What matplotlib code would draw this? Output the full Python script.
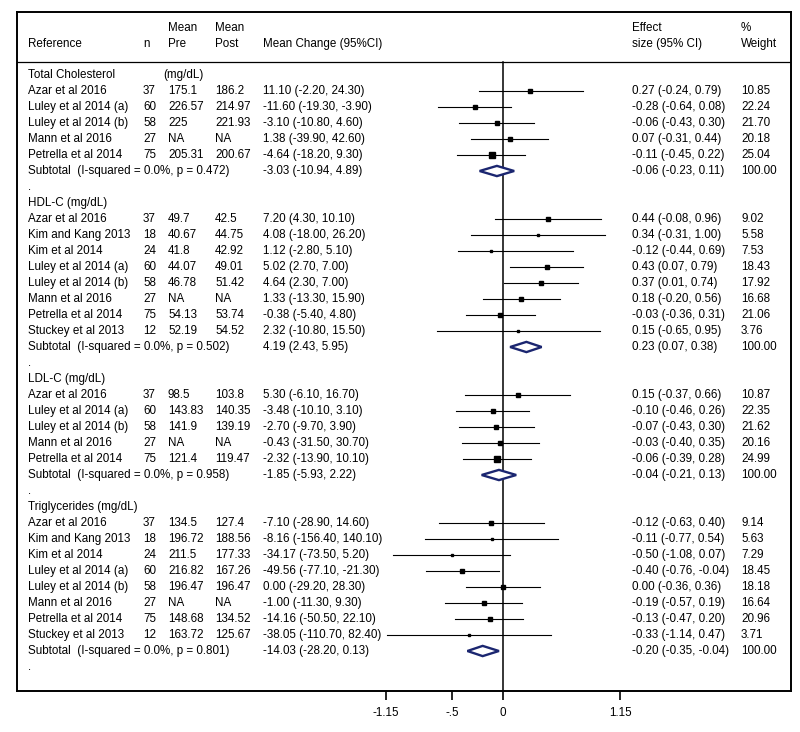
"""
forest plot of lipid outcomes (mean change + standardised effect size)
"""

import matplotlib
matplotlib.use("Agg")
import matplotlib.pyplot as plt
import matplotlib.transforms as mtransforms
import numpy as np

plt.rcParams["font.family"] = ["Liberation Sans", "DejaVu Sans"]

# ---------- data --------------------------------------------------------------

tc_studies = ["Azar et al 2016", "Luley et al 2014 (a)", "Luley et al 2014 (b)",
              "Mann et al 2016", "Petrella et al 2014"]
tc_n = ["37", "60", "58", "27", "75"]
tc_pre = ["175.1", "226.57", "225", "NA", "205.31"]
tc_post = ["186.2", "214.97", "221.93", "NA", "200.67"]
tc_change = ["11.10 (-2.20, 24.30)", "-11.60 (-19.30, -3.90)", "-3.10 (-10.80, 4.60)",
             "1.38 (-39.90, 42.60)", "-4.64 (-18.20, 9.30)"]
tc_es = [0.27, -0.28, -0.06, 0.07, -0.11]
tc_lo = [-0.24, -0.64, -0.43, -0.31, -0.45]
tc_hi = [0.79, 0.08, 0.30, 0.44, 0.22]
tc_w = [10.85, 22.24, 21.70, 20.18, 25.04]
tc_sub = ("Subtotal  (I-squared = 0.0%, p = 0.472)", "-3.03 (-10.94, 4.89)", -0.06, -0.23, 0.11)

hdl_studies = ["Azar et al 2016", "Kim and Kang 2013", "Kim et al 2014", "Luley et al 2014 (a)",
               "Luley et al 2014 (b)", "Mann et al 2016", "Petrella et al 2014", "Stuckey et al 2013"]
hdl_n = ["37", "18", "24", "60", "58", "27", "75", "12"]
hdl_pre = ["49.7", "40.67", "41.8", "44.07", "46.78", "NA", "54.13", "52.19"]
hdl_post = ["42.5", "44.75", "42.92", "49.01", "51.42", "NA", "53.74", "54.52"]
hdl_change = ["7.20 (4.30, 10.10)", "4.08 (-18.00, 26.20)", "1.12 (-2.80, 5.10)",
              "5.02 (2.70, 7.00)", "4.64 (2.30, 7.00)", "1.33 (-13.30, 15.90)",
              "-0.38 (-5.40, 4.80)", "2.32 (-10.80, 15.50)"]
hdl_es = [0.44, 0.34, -0.12, 0.43, 0.37, 0.18, -0.03, 0.15]
hdl_lo = [-0.08, -0.31, -0.44, 0.07, 0.01, -0.20, -0.36, -0.65]
hdl_hi = [0.96, 1.00, 0.69, 0.79, 0.74, 0.56, 0.31, 0.95]
hdl_w = [9.02, 5.58, 7.53, 18.43, 17.92, 16.68, 21.06, 3.76]
hdl_sub = ("Subtotal  (I-squared = 0.0%, p = 0.502)", "4.19 (2.43, 5.95)", 0.23, 0.07, 0.38)

ldl_studies = ["Azar et al 2016", "Luley et al 2014 (a)", "Luley et al 2014 (b)",
               "Mann et al 2016", "Petrella et al 2014"]
ldl_n = ["37", "60", "58", "27", "75"]
ldl_pre = ["98.5", "143.83", "141.9", "NA", "121.4"]
ldl_post = ["103.8", "140.35", "139.19", "NA", "119.47"]
ldl_change = ["5.30 (-6.10, 16.70)", "-3.48 (-10.10, 3.10)", "-2.70 (-9.70, 3.90)",
              "-0.43 (-31.50, 30.70)", "-2.32 (-13.90, 10.10)"]
ldl_es = [0.15, -0.10, -0.07, -0.03, -0.06]
ldl_lo = [-0.37, -0.46, -0.43, -0.40, -0.39]
ldl_hi = [0.66, 0.26, 0.30, 0.35, 0.28]
ldl_w = [10.87, 22.35, 21.62, 20.16, 24.99]
ldl_sub = ("Subtotal  (I-squared = 0.0%, p = 0.958)", "-1.85 (-5.93, 2.22)", -0.04, -0.21, 0.13)

tg_studies = hdl_studies
tg_n = ["37", "18", "24", "60", "58", "27", "75", "12"]
tg_pre = ["134.5", "196.72", "211.5", "216.82", "196.47", "NA", "148.68", "163.72"]
tg_post = ["127.4", "188.56", "177.33", "167.26", "196.47", "NA", "134.52", "125.67"]
tg_change = ["-7.10 (-28.90, 14.60)", "-8.16 (-156.40, 140.10)", "-34.17 (-73.50, 5.20)",
             "-49.56 (-77.10, -21.30)", "0.00 (-29.20, 28.30)", "-1.00 (-11.30, 9.30)",
             "-14.16 (-50.50, 22.10)", "-38.05 (-110.70, 82.40)"]
tg_es = [-0.12, -0.11, -0.50, -0.40, 0.00, -0.19, -0.13, -0.33]
tg_lo = [-0.63, -0.77, -1.08, -0.76, -0.36, -0.57, -0.47, -1.14]
tg_hi = [0.40, 0.54, 0.07, -0.04, 0.36, 0.19, 0.20, 0.47]
tg_w = [9.14, 5.63, 7.29, 18.45, 18.18, 16.64, 20.96, 3.71]
tg_sub = ("Subtotal  (I-squared = 0.0%, p = 0.801)", "-14.03 (-28.20, 0.13)", -0.20, -0.35, -0.04)

sections = [
    ("Total Cholesterol", "(mg/dL)", tc_studies, tc_n, tc_pre, tc_post, tc_change,
     tc_es, tc_lo, tc_hi, tc_w, tc_sub),
    ("HDL-C (mg/dL)", None, hdl_studies, hdl_n, hdl_pre, hdl_post, hdl_change,
     hdl_es, hdl_lo, hdl_hi, hdl_w, hdl_sub),
    ("LDL-C (mg/dL)", None, ldl_studies, ldl_n, ldl_pre, ldl_post, ldl_change,
     ldl_es, ldl_lo, ldl_hi, ldl_w, ldl_sub),
    ("Triglycerides (mg/dL)", None, tg_studies, tg_n, tg_pre, tg_post, tg_change,
     tg_es, tg_lo, tg_hi, tg_w, tg_sub),
]

xticks = [-1.15, -0.5, 0, 1.15]
xticklabels = ["-1.15", "-.5", "0", "1.15"]

# ---------- layout (pixels of an 800x732 canvas) ------------------------------

W, H = 800, 732
box_l, box_r, box_t, box_b = 17, 791, 12, 691
x_zero, px_per_unit = 503, 117 / 1.15
row0, row_h = 75, 16

col_ref, col_n, col_pre, col_post, col_chg, col_es, col_w = 28, 143, 168, 215, 263, 632, 741
FS = 8.4
NAVY = "#1b2670"

fig = plt.figure(figsize=(W / 100, H / 100), dpi=100)
ax = fig.add_axes([box_l / W, 1 - box_b / H, (box_r - box_l) / W, (box_b - box_t) / H])
ax.set_xlim((box_l - x_zero) / px_per_unit, (box_r - x_zero) / px_per_unit)
ax.set_ylim((box_b - row0) / row_h, (box_t - row0) / row_h)

# text: x in figure fraction, y in rows
txt_trans = mtransforms.blended_transform_factory(fig.transFigure, ax.transData)


def put(x, row, s, **kw):
    ax.text(x / W, row, s, transform=txt_trans, fontsize=FS, va="center", ha="left", **kw)


# header
hdr_top = (28 - row0) / row_h
hdr_bot = (44 - row0) / row_h
put(col_ref, hdr_bot, "Reference")
put(col_n, hdr_bot, "n")
put(col_pre, hdr_top, "Mean")
put(col_pre, hdr_bot, "Pre")
put(col_post, hdr_top, "Mean")
put(col_post, hdr_bot, "Post")
put(col_chg, hdr_bot, "Mean Change (95%CI)")
put(col_es, hdr_top, "Effect")
put(col_es, hdr_bot, "size (95% CI)")
put(col_w, hdr_top, "%")
put(col_w, hdr_bot, "Weight")
sep = (62 - row0) / row_h
ax.axhline(sep, color="black", lw=0.9)

row = 0
for (title, unit, studies, ns, pre, post, chg, es, lo, hi, w, sub) in sections:
    put(col_ref, row, title)
    if unit:
        put(col_pre - 5, row, unit)
    row += 1
    for i in range(len(studies)):
        put(col_ref, row, studies[i])
        put(col_n, row, ns[i])
        put(col_pre, row, pre[i])
        put(col_post, row, post[i])
        put(col_chg, row, chg[i])
        put(col_es, row, f"{es[i]:.2f} ({lo[i]:.2f}, {hi[i]:.2f})")
        put(col_w, row, f"{w[i]:.2f}")
        ax.plot([lo[i], hi[i]], [row, row], color="black", lw=0.8, zorder=3)
        ax.plot(es[i], row, marker="s", ms=0.75 * np.sqrt(w[i]), color="black",
                mec="black", zorder=4)
        row += 1
    label, chg_txt, s_es, s_lo, s_hi = sub
    put(col_ref, row, label)
    put(col_chg, row, chg_txt)
    put(col_es, row, f"{s_es:.2f} ({s_lo:.2f}, {s_hi:.2f})")
    put(col_w, row, "100.00")
    ax.fill([s_lo, s_es, s_hi, s_es], [row, row - 0.32, row, row + 0.32],
            facecolor="white", edgecolor=NAVY, lw=1.7, zorder=5)
    row += 1
    put(col_ref, row, ".")
    row += 1

ax.plot([0, 0], [sep, ax.get_ylim()[0]], color="black", lw=1.1, zorder=2)

for sp in ax.spines.values():
    sp.set_linewidth(1.4)
ax.set_yticks([])
ax.set_xticks(xticks)
ax.set_xticklabels(xticklabels, fontsize=FS)
ax.tick_params(axis="x", direction="out", length=6.5, width=1.2, pad=5)

fig.savefig("out.png", dpi=100)
